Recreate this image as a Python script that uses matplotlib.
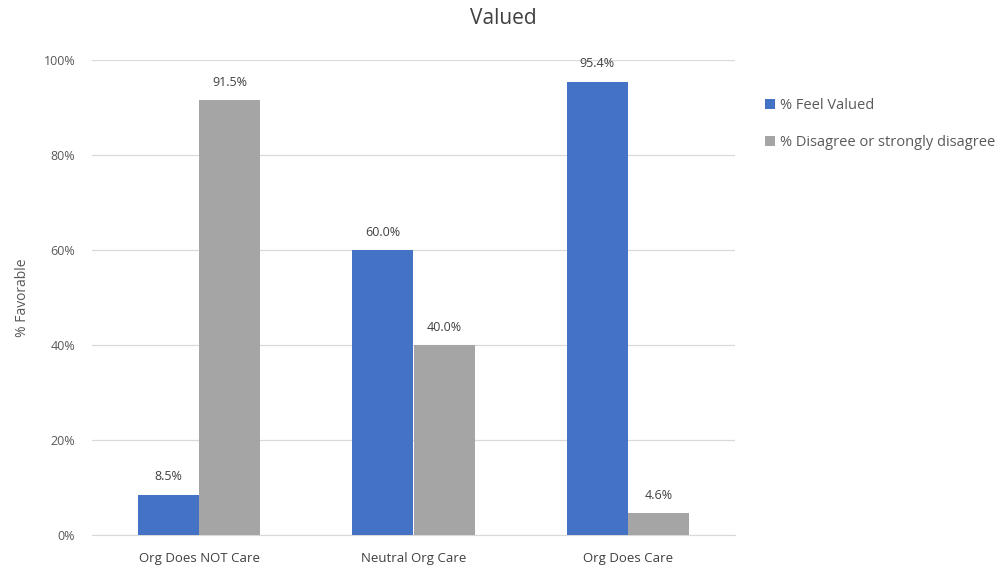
import matplotlib
matplotlib.use("Agg")
import matplotlib.pyplot as plt
import numpy as np

categories = ["Org Does NOT Care", "Neutral Org Care", "Org Does Care"]
feel_valued = [8.5, 60.0, 95.4]
disagree = [91.5, 40.0, 4.6]
series_names = ["% Feel Valued", "% Disagree or strongly disagree"]
yticks = [0, 20, 40, 60, 80, 100]

plt.rcParams['font.family'] = ['Open Sans', 'DejaVu Sans']
txt = '#595959'

fig = plt.figure(figsize=(10.07, 5.75), dpi=100)
ax = fig.add_axes([92/1007, 1-535/575, (735-92)/1007, (535-60)/575])

x = np.arange(len(categories))
w = 0.285
b1 = ax.bar(x - w/2, feel_valued, w, color='#4472C4', label=series_names[0], zorder=3)
b2 = ax.bar(x + w/2, disagree, w, color='#A5A5A5', label=series_names[1], zorder=3)

for bars, vals in ((b1, feel_valued), (b2, disagree)):
    for r, v in zip(bars, vals):
        ax.text(r.get_x() + r.get_width()/2, v + 2.4, f"{v:.1f}%", ha='center', va='bottom',
                fontsize=9, color='#404040')

ax.set_xlim(-0.5, 2.5)
ax.set_ylim(0, 100)
ax.set_yticks(yticks)
ax.set_yticklabels([f"{t}%" for t in yticks], fontsize=9, color=txt)
ax.set_xticks(x)
ax.set_xticklabels(categories, fontsize=9.5, color='#404040')
ax.tick_params(axis='x', length=0, pad=12)
ax.tick_params(axis='y', length=0, pad=12)
ax.grid(axis='y', color='#D9D9D9', linewidth=0.9, zorder=0)
for s in ['top', 'right', 'left']:
    ax.spines[s].set_visible(False)
ax.spines['bottom'].set_color('#D9D9D9')
ax.set_ylabel("% Favorable", fontsize=10, color=txt, labelpad=10)

fig.text(503/1007, 1-18/575, "Valued", ha='center', va='center', fontsize=15, color='#404040')

fig.legend(handles=[b1, b2], loc='upper left', bbox_to_anchor=(752/1007, 1-85/575),
           frameon=False, fontsize=10.5, labelspacing=1.5, handlelength=0.7, handleheight=0.7,
           handletextpad=0.3, labelcolor=txt)

fig.savefig("out.png", dpi=100)
